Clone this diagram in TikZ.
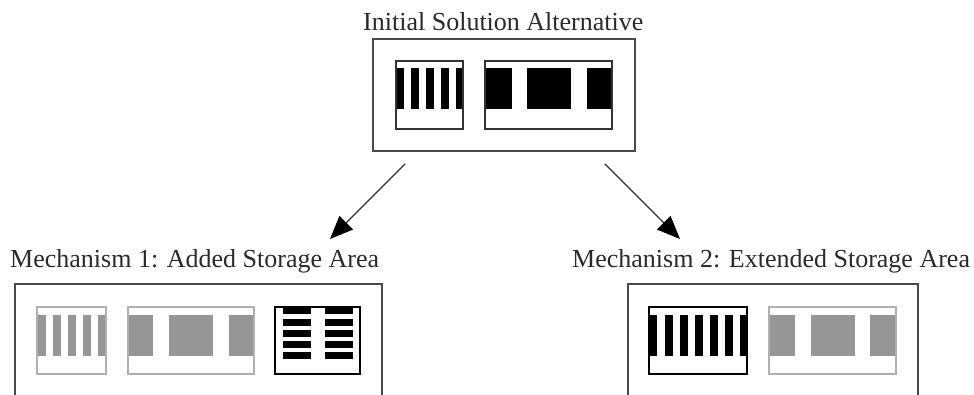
\documentclass[tikz,border=0pt]{standalone}
\usepackage{fontspec}
\setmainfont{Liberation Serif}
\usetikzlibrary{arrows.meta}
\definecolor{frame}{HTML}{4A4A4A}
\definecolor{inner}{HTML}{333333}
\definecolor{lgray}{HTML}{B0B0B0}
\definecolor{mgray}{HTML}{969696}
\definecolor{txt}{HTML}{2A2A2A}
\tikzset{
  outerbox/.style={draw=frame, line width=1.8pt},
  innerbox/.style={draw=inner, line width=1.4pt},
  grayinner/.style={draw=lgray, line width=1.3pt},
  blackinner/.style={draw=black, line width=2pt},
  blackfill/.style={fill=black},
  grayfill/.style={fill=mgray},
  title/.style={font=\fontsize{26}{30}\selectfont, text=txt, inner sep=0pt, anchor=base west},
  flow/.style={draw=inner, line width=1.3pt, -{Triangle[length=23pt,width=19pt,color=black,fill=black]}}
}
\begin{document}
\begin{tikzpicture}[x=1pt,y=-1pt]
\useasboundingbox (0,0) rectangle (974,395);
\clip (0,0) rectangle (974,395);
% titles
\node[title] (t0) at (363,30.5) {Initial Solution Alternative};
\node[title] (t1) at (10,268) {Mechanism 1: Added Storage Area};
\node[title] (t2) at (572,268) {Mechanism 2: Extended Storage Area};
% outer boxes
\draw[outerbox] (373,39) rectangle (635,151);
\node[inner sep=0pt, minimum width=262pt, minimum height=112pt] (top) at (504,95) {};
\draw[outerbox] (15,284) rectangle (382,430);
\node[inner sep=0pt] (m1) at (198,340) {};
\draw[outerbox] (628,284) rectangle (918,430);
\node[inner sep=0pt] (m2) at (773,340) {};
% top box contents
\foreach \x in {396,411,426,441,456} \fill[blackfill] (\x,68) rectangle ++(7.5,41);
\draw[innerbox] (396,61) rectangle (463,129);
\fill[blackfill] (485,68) rectangle (512,109);
\fill[blackfill] (527,68) rectangle (571,109);
\fill[blackfill] (587,68) rectangle (612,109);
\draw[innerbox] (485,61) rectangle (612,129);
% mechanism 1 contents
\foreach \x in {38,53,68,83,98} \fill[grayfill] (\x,315) rectangle ++(8,41);
\draw[grayinner] (37,307) rectangle (106,374);
\fill[grayfill] (128,315) rectangle (153,356);
\fill[grayfill] (169,315) rectangle (213,356);
\fill[grayfill] (229,315) rectangle (254,356);
\draw[grayinner] (128,307) rectangle (254,374);
\foreach \y in {307.5,319,330,341,352} {
  \fill[blackfill] (283,\y) rectangle (311,\y+6.5);
  \fill[blackfill] (325,\y) rectangle (353,\y+6.5);
}
\draw[blackinner] (275,307) rectangle (360,374);
% mechanism 2 contents
\foreach \x in {649,665,680,695,710,725,740} \fill[blackfill] (\x,315) rectangle ++(7.5,41);
\draw[blackinner] (649,307) rectangle (747,374);
\fill[grayfill] (769,315) rectangle (795,356);
\fill[grayfill] (811,315) rectangle (855,356);
\fill[grayfill] (870,315) rectangle (896,356);
\draw[grayinner] (769,307) rectangle (896,374);
% arrows
\coordinate (a1s) at (405,164);
\coordinate (a1e) at (330,239);
\coordinate (a2s) at (605,164);
\coordinate (a2e) at (680,239);
\draw[flow] (a1s) -- (a1e);
\draw[flow] (a2s) -- (a2e);
\end{tikzpicture}
\end{document}
